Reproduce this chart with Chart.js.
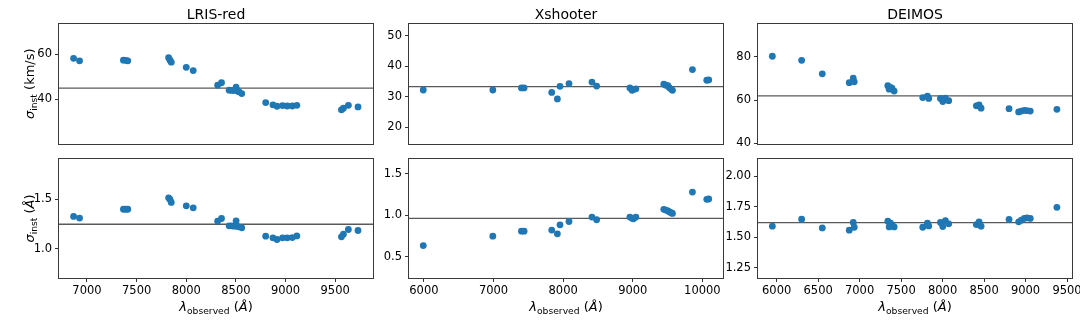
<!DOCTYPE html>
<html><head><meta charset="utf-8">
<script src="https://cdn.jsdelivr.net/npm/chart.js@4.4.1/dist/chart.umd.min.js"></script>
<style>
html,body{margin:0;padding:0;background:#fff;}
#fig{position:relative;width:1080px;height:324px;overflow:hidden;background:#fff;}
#fig canvas{position:absolute;}
</style></head><body><div id="fig"></div>
<script>
// ---------------- data ----------------
const instruments = ['LRIS-red', 'Xshooter', 'DEIMOS'];

const lrisWave = [6865, 6925, 7367, 7390, 7411, 7822, 7836, 7849, 8000, 8070, 8316, 8355, 8432, 8458, 8482, 8502, 8510, 8530, 8559, 8800, 8873, 8914, 8970, 9017, 9068, 9114, 9563, 9583, 9633, 9730];
const lrisSigmaKms = [58.1, 57.0, 57.3, 57.2, 57.0, 58.4, 57.3, 56.4, 54.1, 52.7, 46.2, 47.3, 44.0, 43.9, 43.9, 45.3, 43.7, 43.3, 42.5, 38.5, 37.5, 36.9, 37.2, 37.0, 37.0, 37.3, 35.3, 36.0, 37.3, 36.6];
const lrisSigmaAng = [1.327, 1.31, 1.40, 1.40, 1.40, 1.517, 1.50, 1.47, 1.435, 1.415, 1.279, 1.306, 1.231, 1.231, 1.228, 1.282, 1.228, 1.221, 1.211, 1.126, 1.109, 1.092, 1.109, 1.109, 1.112, 1.129, 1.119, 1.146, 1.194, 1.184];

const xshWave = [5991, 6990, 7401, 7439, 7836, 7917, 7955, 8084, 8414, 8481, 8959, 8990, 9010, 9045, 9446, 9475, 9504, 9523, 9551, 9570, 9857, 10063, 10091];
const xshSigmaKms = [32.2, 32.2, 32.9, 32.9, 31.4, 29.3, 33.4, 34.3, 34.8, 33.5, 32.9, 32.1, 32.4, 32.6, 34.1, 33.8, 33.6, 33.0, 32.5, 32.1, 38.9, 35.4, 35.5];
const xshSigmaAng = [0.637, 0.75, 0.81, 0.81, 0.823, 0.778, 0.887, 0.927, 0.98, 0.948, 0.98, 0.965, 0.96, 0.98, 1.073, 1.065, 1.056, 1.044, 1.032, 1.024, 1.282, 1.194, 1.198];

const deiWave = [5948, 6301, 6550, 6875, 6923, 6935, 7340, 7356, 7372, 7392, 7416, 7761, 7817, 7833, 7974, 8002, 8034, 8074, 8407, 8440, 8464, 8801, 8917, 8949, 8985, 9017, 9057, 9378];
const deiSigmaKms = [80.3, 78.4, 72.2, 68.1, 70.2, 68.5, 66.7, 65.1, 65.9, 65.4, 64.2, 61.2, 61.9, 60.8, 60.8, 59.4, 60.9, 59.8, 57.4, 57.8, 56.3, 56.1, 54.6, 55.0, 55.3, 55.2, 55.0, 55.8];
const deiSigmaAng = [1.591, 1.648, 1.577, 1.558, 1.621, 1.582, 1.632, 1.585, 1.615, 1.599, 1.585, 1.582, 1.615, 1.593, 1.621, 1.588, 1.635, 1.61, 1.604, 1.626, 1.591, 1.646, 1.626, 1.64, 1.654, 1.659, 1.654, 1.745];

const meanKms = [44.9, 33.3, 62.0];
const meanAng = [1.248, 0.964, 1.62];

const xTickLabels = [
  ['7000', '7500', '8000', '8500', '9000', '9500'],
  ['6000', '7000', '8000', '9000', '10000'],
  ['6000', '6500', '7000', '7500', '8000', '8500', '9000', '9500']
];
const yTickLabelsKms = [['40', '60'], ['20', '30', '40', '50'], ['40', '60', '80']];
const yTickLabelsAng = [['1.0', '1.5'], ['0.5', '1.0', '1.5'], ['1.25', '1.50', '1.75', '2.00']];

const xRanges = [[6718, 9881], [5786, 10296], [5775, 9560]];
const yRangesKms = [[20.4, 73.3], [14.7, 53.8], [40.0, 95.2]];
const yRangesAng = [[0.70, 1.912], [0.246, 1.68], [1.168, 2.139]];

// ---------------- layout ----------------
const FONT = '"DejaVu Sans", sans-serif';
const colLeft = [59, 409, 758];
const colW = 314;
const rowGeom = [{top: 24, h: 119.5, topPad: 24, xAxisH: 6.5}, {top: 159, h: 119, topPad: 10, xAxisH: 46}];
const padL = 60, padR = 24;
const BLUE = '#1f77b4';

function drawRich(ctx, parts, x, y) {
  let total = 0;
  parts.forEach(p => { ctx.font = p.font; p.w = ctx.measureText(p.t).width; total += p.w; });
  let cx = x - total / 2;
  ctx.textAlign = 'left';
  ctx.textBaseline = 'alphabetic';
  parts.forEach(p => { ctx.font = p.font; ctx.fillText(p.t, cx, y + (p.dy || 0)); cx += p.w; });
}
const fMain = '13px ' + FONT, fIt = 'italic 13px ' + FONT, fSub = '9.2px ' + FONT;
const yLabelKms = [{t: 'σ', font: fIt}, {t: 'inst', font: fSub, dy: 2.8}, {t: ' (km/s)', font: fMain}];
const yLabelAng = [{t: 'σ', font: fIt}, {t: 'inst', font: fSub, dy: 2.8}, {t: ' (', font: fMain}, {t: 'Å', font: fIt}, {t: ')', font: fMain}];
const xLabel = [{t: 'λ', font: fIt}, {t: 'observed', font: fSub, dy: 2.8}, {t: ' (', font: fMain}, {t: 'Å', font: fIt}, {t: ')', font: fMain}];

const decor = {
  id: 'decor',
  beforeDatasetsDraw(chart, args, o) {
    const a = chart.chartArea, ctx = chart.ctx;
    const y = chart.scales.y.getPixelForValue(o.mean);
    ctx.save();
    ctx.strokeStyle = 'rgba(0,0,0,0.65)';
    ctx.lineWidth = 1.4;
    ctx.beginPath(); ctx.moveTo(a.left, y); ctx.lineTo(a.right, y); ctx.stroke();
    ctx.restore();
  },
  afterDraw(chart, args, o) {
    const a = chart.chartArea, ctx = chart.ctx;
    ctx.save();
    ctx.strokeStyle = '#3a3a3a';
    ctx.lineWidth = 1;
    ctx.strokeRect(Math.round(a.left) - 0.5, Math.round(a.top) - 0.5, Math.round(a.right) - Math.round(a.left) + 1, Math.round(a.bottom) - Math.round(a.top) + 1);
    ctx.fillStyle = '#000';
    if (o.title) {
      ctx.font = '14px ' + FONT;
      ctx.textAlign = 'center';
      ctx.textBaseline = 'alphabetic';
      ctx.fillText(o.title, (a.left + a.right) / 2, a.top - 5);
    }
    if (o.ylabel) {
      ctx.save();
      ctx.translate(a.left - 25, (a.top + a.bottom) / 2);
      ctx.rotate(-Math.PI / 2);
      drawRich(ctx, o.ylabel, 0, 0);
      ctx.restore();
    }
    if (o.xlabel) {
      drawRich(ctx, o.xlabel, (a.left + a.right) / 2, a.bottom + 33);
    }
    ctx.restore();
  }
};

function makePanel(col, row, xs, ys, xRange, yRange, xtl, ytl, mean) {
  const g = rowGeom[row];
  const cw = padL + colW + padR;
  const ch = g.topPad + g.h + g.xAxisH;
  const cv = document.createElement('canvas');
  cv.width = cw; cv.height = ch;
  cv.style.width = cw + 'px'; cv.style.height = ch + 'px';
  cv.style.left = (colLeft[col] - padL) + 'px';
  cv.style.top = (g.top - g.topPad) + 'px';
  document.getElementById('fig').appendChild(cv);
  const tickFont = {family: FONT, size: 11.5};
  new Chart(cv, {
    type: 'scatter',
    data: {datasets: [{
      data: xs.map((x, i) => ({x: x, y: ys[i]})),
      backgroundColor: BLUE, borderColor: BLUE, borderWidth: 0,
      pointRadius: 3.4, pointHoverRadius: 3.4, showLine: false
    }]},
    options: {
      responsive: false, animation: false, devicePixelRatio: 1,
      events: [],
      layout: {padding: {left: 0, right: padR, top: g.topPad, bottom: 0}, autoPadding: false},
      plugins: {
        legend: {display: false}, tooltip: {enabled: false}, title: {display: false},
        decor: {
          mean: mean,
          title: row === 0 ? instruments[col] : null,
          ylabel: col === 0 ? (row === 0 ? yLabelKms : yLabelAng) : null,
          xlabel: row === 1 ? xLabel : null
        }
      },
      scales: {
        x: {
          type: 'linear', position: 'bottom', min: xRange[0], max: xRange[1],
          afterBuildTicks: s => { s.ticks = xtl.map(t => ({value: parseFloat(t)})); },
          afterFit: s => { s.height = g.xAxisH; s.paddingLeft = 0; s.paddingRight = 0; },
          grid: {display: row === 1, drawOnChartArea: false, drawTicks: row === 1, tickLength: 4, color: '#333', lineWidth: 1},
          border: {display: false},
          ticks: {display: row === 1, font: tickFont, color: '#000', padding: 2, maxRotation: 0, minRotation: 0, autoSkip: false,
                  callback: (v, i) => xtl[i]}
        },
        y: {
          type: 'linear', position: 'left', min: yRange[0], max: yRange[1],
          afterBuildTicks: s => { s.ticks = ytl.map(t => ({value: parseFloat(t)})); },
          afterFit: s => { s.width = padL; s.paddingTop = 0; s.paddingBottom = 0; },
          grid: {display: true, drawOnChartArea: false, drawTicks: true, tickLength: 4, color: '#333', lineWidth: 1},
          border: {display: false},
          ticks: {font: tickFont, color: '#000', padding: 3, autoSkip: false, callback: (v, i) => ytl[i]}
        }
      }
    },
    plugins: [decor]
  });
}

const waves = [lrisWave, xshWave, deiWave];
const kms = [lrisSigmaKms, xshSigmaKms, deiSigmaKms];
const ang = [lrisSigmaAng, xshSigmaAng, deiSigmaAng];
for (let c = 0; c < 3; c++) {
  makePanel(c, 0, waves[c], kms[c], xRanges[c], yRangesKms[c], xTickLabels[c], yTickLabelsKms[c], meanKms[c]);
  makePanel(c, 1, waves[c], ang[c], xRanges[c], yRangesAng[c], xTickLabels[c], yTickLabelsAng[c], meanAng[c]);
}
</script>
</body></html>
